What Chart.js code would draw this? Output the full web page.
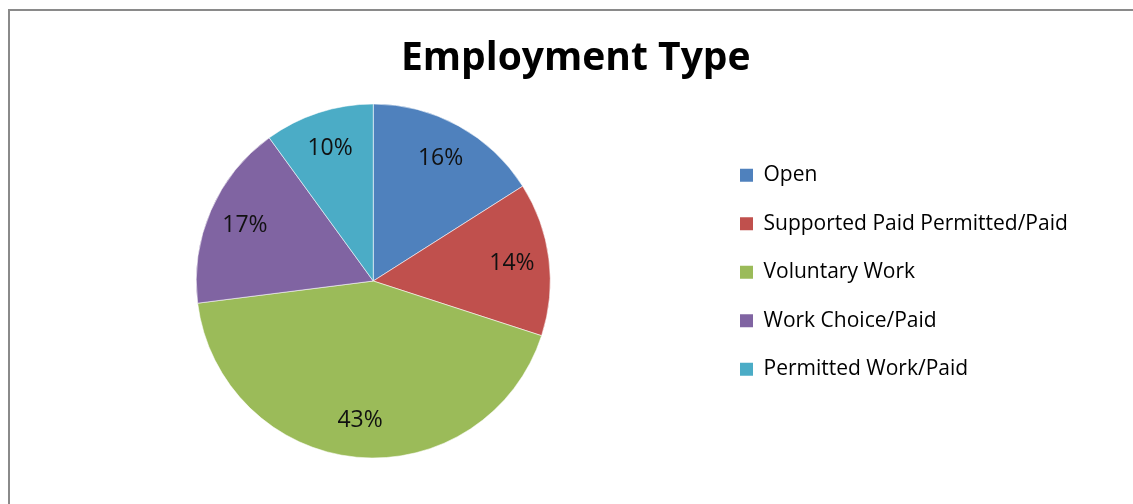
<!DOCTYPE html>
<html>
<head>
<meta charset="utf-8">
<script src="https://cdn.jsdelivr.net/npm/chart.js@4.4.1/dist/chart.umd.min.js"></script>
<style>
  html, body { margin: 0; padding: 0; background: #ffffff; overflow: hidden; width: 1133px; height: 504px; }
  #frame { position: absolute; left: 8px; top: 9px; width: 1200px; height: 600px; border: 2px solid #8a8a8a; box-sizing: border-box; }
  #wrap { position: absolute; left: 10px; top: 11px; width: 1130px; height: 493px; }
</style>
</head>
<body>
<div id="frame"></div>
<div id="wrap"><canvas id="chart"></canvas></div>
<script>
// Employment type shares (percent)
const categories = ['Open', 'Supported Paid Permitted/Paid', 'Voluntary Work', 'Work Choice/Paid', 'Permitted Work/Paid'];
const shares = [16, 14, 43, 17, 10];
const sliceColors = ['#4F81BD', '#C0504D', '#9BBB59', '#8064A2', '#4BACC6'];

const FONT = '"Open Sans", "Noto Sans", sans-serif';

// Percentage labels placed inside each slice, about 4/5 of the way out
const sliceLabels = {
  id: 'sliceLabels',
  afterDatasetsDraw(chart) {
    const ctx = chart.ctx;
    const meta = chart.getDatasetMeta(0);
    ctx.save();
    ctx.font = '23px ' + FONT;
    ctx.fillStyle = '#111111';
    ctx.textAlign = 'center';
    ctx.textBaseline = 'middle';
    meta.data.forEach((arc, i) => {
      const p = arc.getProps(['x', 'y', 'startAngle', 'endAngle', 'outerRadius'], true);
      const mid = (p.startAngle + p.endAngle) / 2;
      const r = p.outerRadius * 0.79;
      ctx.fillText(shares[i] + '%', p.x + Math.cos(mid) * r, p.y + Math.sin(mid) * r);
    });
    ctx.restore();
  }
};

// Reserve a fixed-width column for the legend so the title sits centred over the whole frame
const legendColumn = {
  id: 'legendColumn',
  afterInit(chart) {
    const legend = chart.legend;
    const fit = legend.fit;
    legend.fit = function () {
      fit.call(this);
      this.width = Math.max(this.width, 405);
    };
  }
};

const baseLabels = Chart.overrides.pie.plugins.legend.labels.generateLabels;

new Chart(document.getElementById('chart'), {
  type: 'pie',
  data: {
    labels: categories,
    datasets: [{
      data: shares,
      backgroundColor: sliceColors,
      borderColor: 'rgba(255,255,255,0.55)',
      borderWidth: 1,
      radius: 177,
      clip: false
    }]
  },
  options: {
    responsive: true,
    maintainAspectRatio: false,
    animation: false,
    layout: { padding: { left: 24, right: 22.5, top: 0, bottom: 79.2 } },
    plugins: {
      title: {
        display: true,
        text: 'Employment Type',
        color: '#000000',
        font: { family: FONT, size: 39, weight: 'bold' },
        padding: { top: 24, bottom: 55.4 }
      },
      legend: {
        position: 'right',
        align: 'start',
        fullSize: false,
        labels: {
          color: '#000000',
          font: { family: FONT, size: 21 },
          boxWidth: 13,
          boxHeight: 13,
          padding: 27.5,
          generateLabels(chart) {
            return baseLabels(chart).map(l => Object.assign(l, { lineWidth: 0 }));
          }
        }
      },
      tooltip: { enabled: false }
    }
  },
  plugins: [sliceLabels, legendColumn]
});
</script>
</body>
</html>
